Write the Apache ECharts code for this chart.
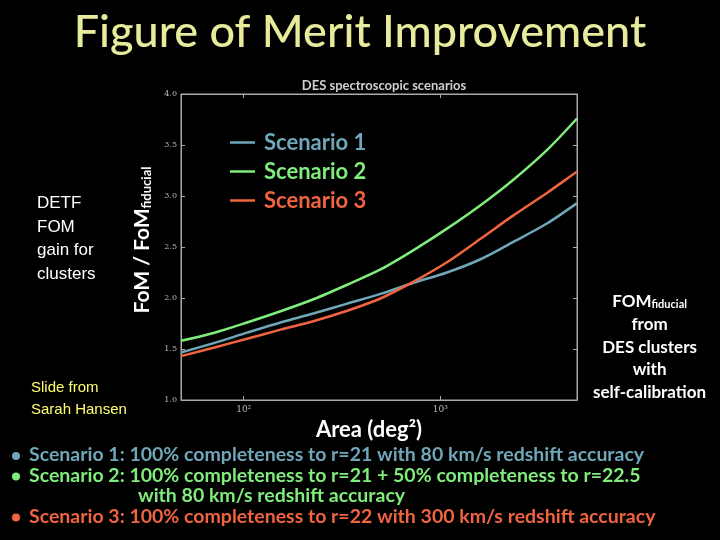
<!DOCTYPE html>
<html lang="en">
<head>
<meta charset="UTF-8">
<title>Figure of Merit Improvement</title>
<script src="https://cdn.jsdelivr.net/npm/echarts@6/dist/echarts.min.js"></script>
<style>
  html, body { margin: 0; padding: 0; background: #000; }
  #chart { width: 720px; height: 540px; }
</style>
</head>
<body>
<div id="chart"></div>
<script>
// survey area in deg^2 (log axis)
var areas = [48, 71, 104, 154, 228, 336, 496, 731, 1080, 1600, 2350, 3480, 4950];
// FoM / FoM_fiducial
var scenario1 = [1.466, 1.56, 1.66, 1.76, 1.85, 1.945, 2.04, 2.15, 2.25, 2.38, 2.55, 2.73, 2.93];
var scenario2 = [1.58, 1.66, 1.76, 1.87, 1.99, 2.13, 2.28, 2.47, 2.68, 2.91, 3.16, 3.45, 3.76];
var scenario3 = [1.43, 1.515, 1.60, 1.69, 1.775, 1.875, 1.995, 2.16, 2.35, 2.58, 2.81, 3.03, 3.24];
var seriesNames = ['Scenario 1', 'Scenario 2', 'Scenario 3'];
var colors = ['#6fa6b9', '#80ec7c', '#f0643f'];

var bullets = [
  { text: 'Scenario 1: 100% completeness to r=21 with 80 km/s redshift accuracy', color: colors[0], dot: true },
  { text: 'Scenario 2: 100% completeness to r=21 + 50% completeness to r=22.5', color: colors[1], dot: true },
  { text: 'with 80 km/s redshift accuracy', color: colors[1], dot: false },
  { text: 'Scenario 3: 100% completeness to r=22 with 300 km/s redshift accuracy', color: colors[2], dot: true }
];

function pairs(vals) {
  var out = [];
  for (var i = 0; i < areas.length; i++) out.push([areas[i], vals[i]]);
  return out;
}

var gillish = 'Lato, "Open Sans", sans-serif';

var graphics = [
  { type: 'text', left: 'center', top: 10, style: { text: 'Figure of Merit Improvement', fill: '#e9eb9c', font: '500 45px ' + gillish } },
  { type: 'text', left: 37, top: 192, style: { text: 'DETF\nFOM\ngain for\nclusters', fill: '#fff', font: '17px "Liberation Sans", Arial, sans-serif', lineHeight: 23.5 } },
  { type: 'text', left: 31, top: 377, style: { text: 'Slide from\nSarah Hansen', fill: '#ffff6e', font: '15px "Liberation Sans", Arial, sans-serif', lineHeight: 22 } },
  { type: 'text', left: 593, top: 293, style: {
      text: '{a|FOM}{s|fiducial}\n{a|from}\n{a|DES clusters}\n{a|with}\n{a|self-calibration}',
      align: 'center', x: 59,
      rich: {
        a: { fill: '#fff', fontFamily: gillish, fontSize: 17, fontWeight: 'bold', lineHeight: 22.8, align: 'center' },
        s: { fill: '#fff', fontFamily: gillish, fontSize: 11, fontWeight: 'bold', lineHeight: 22.8, padding: [6, 0, 0, 0] }
      } } }
];
var by = 445;
for (var b = 0; b < bullets.length; b++) {
  if (bullets[b].dot) {
    graphics.push({ type: 'circle', shape: { cx: 16, cy: by + 11, r: 4 }, style: { fill: bullets[b].color } });
  }
  graphics.push({ type: 'text', left: bullets[b].dot ? 29 : 138, top: by,
    style: { text: bullets[b].text, fill: bullets[b].color, font: 'bold 19.5px ' + gillish } });
  by += 20.5;
}

var chart = echarts.init(document.getElementById('chart'));
chart.setOption({
  backgroundColor: '#000',
  animation: false,
  title: {
    text: 'DES spectroscopic scenarios',
    left: 379, top: 74, textAlign: 'center',
    textStyle: { color: '#d0d0d0', fontSize: 13, fontWeight: 'bold', fontFamily: gillish }
  },
  legend: {
    orient: 'vertical', left: 225, top: 123, itemGap: 0,
    icon: 'rect', itemWidth: 25, itemHeight: 2.5,
    data: seriesNames.map(function (n, i) {
      return { name: n, textStyle: { color: colors[i] } };
    }),
    textStyle: { fontSize: 22, fontWeight: 'bold', fontFamily: gillish, lineHeight: 29, padding: [0, 0, 0, 4] }
  },
  grid: { left: 181, top: 94, width: 396, height: 306, show: true, borderColor: '#aaa', borderWidth: 1 },
  xAxis: [{
    type: 'log', logBase: 10, min: 48, max: 4950,
    name: 'Area (deg²)', nameLocation: 'middle', nameGap: 17,
    nameTextStyle: { color: '#fff', fontSize: 22, fontWeight: 'bold', fontFamily: gillish, padding: [0, 20, 0, 0] },
    axisLine: { lineStyle: { color: '#aaa' } },
    axisTick: { inside: true, length: 4, lineStyle: { color: '#aaa' } },
    splitLine: { show: false },
    axisLabel: {
      color: '#bbb', fontSize: 9, margin: 5, fontFamily: '"DejaVu Serif", serif',
      showMinLabel: false, showMaxLabel: false,
      formatter: function (v) {
        if (Math.abs(v - 100) < 1e-6) return '10²';
        if (Math.abs(v - 1000) < 1e-6) return '10³';
        return '';
      }
    }
  }, {
    type: 'log', logBase: 10, min: 48, max: 4950, position: 'top',
    axisLine: { lineStyle: { color: '#aaa' } },
    axisTick: { inside: true, length: 4, lineStyle: { color: '#aaa' } },
    axisLabel: { show: false }, splitLine: { show: false }
  }],
  yAxis: [{
    type: 'value', min: 1.0, max: 4.0, interval: 0.5,
    name: '{a|FoM / FoM}{s|fiducial}', nameLocation: 'middle', nameGap: 26,
    nameTextStyle: {
      padding: [0, 0, 0, 14],
      rich: {
        a: { color: '#fff', fontSize: 21, fontWeight: 'bold', fontFamily: gillish },
        s: { color: '#fff', fontSize: 13, fontWeight: 'bold', fontFamily: gillish, padding: [10, 0, 0, 0] }
      }
    },
    axisLine: { show: true, lineStyle: { color: '#aaa' } },
    axisTick: { show: true, inside: true, length: 4, lineStyle: { color: '#aaa' } },
    splitLine: { show: false },
    axisLabel: { color: '#bbb', fontSize: 8, margin: 4, fontFamily: '"DejaVu Serif", serif',
      formatter: function (v) { return v.toFixed(1); } }
  }, {
    type: 'value', min: 1.0, max: 4.0, interval: 0.5, position: 'right',
    axisLine: { show: true, lineStyle: { color: '#aaa' } },
    axisTick: { show: true, inside: true, length: 4, lineStyle: { color: '#aaa' } },
    axisLabel: { show: false }, splitLine: { show: false }
  }],
  series: [
    { name: seriesNames[0], type: 'line', data: pairs(scenario1), smooth: 0.3, showSymbol: false, lineStyle: { width: 2.5, color: colors[0] }, itemStyle: { color: colors[0] } },
    { name: seriesNames[1], type: 'line', data: pairs(scenario2), smooth: 0.3, showSymbol: false, lineStyle: { width: 2.5, color: colors[1] }, itemStyle: { color: colors[1] } },
    { name: seriesNames[2], type: 'line', data: pairs(scenario3), smooth: 0.3, showSymbol: false, lineStyle: { width: 2.5, color: colors[2] }, itemStyle: { color: colors[2] } }
  ],
  graphic: graphics
});
</script>
</body>
</html>
